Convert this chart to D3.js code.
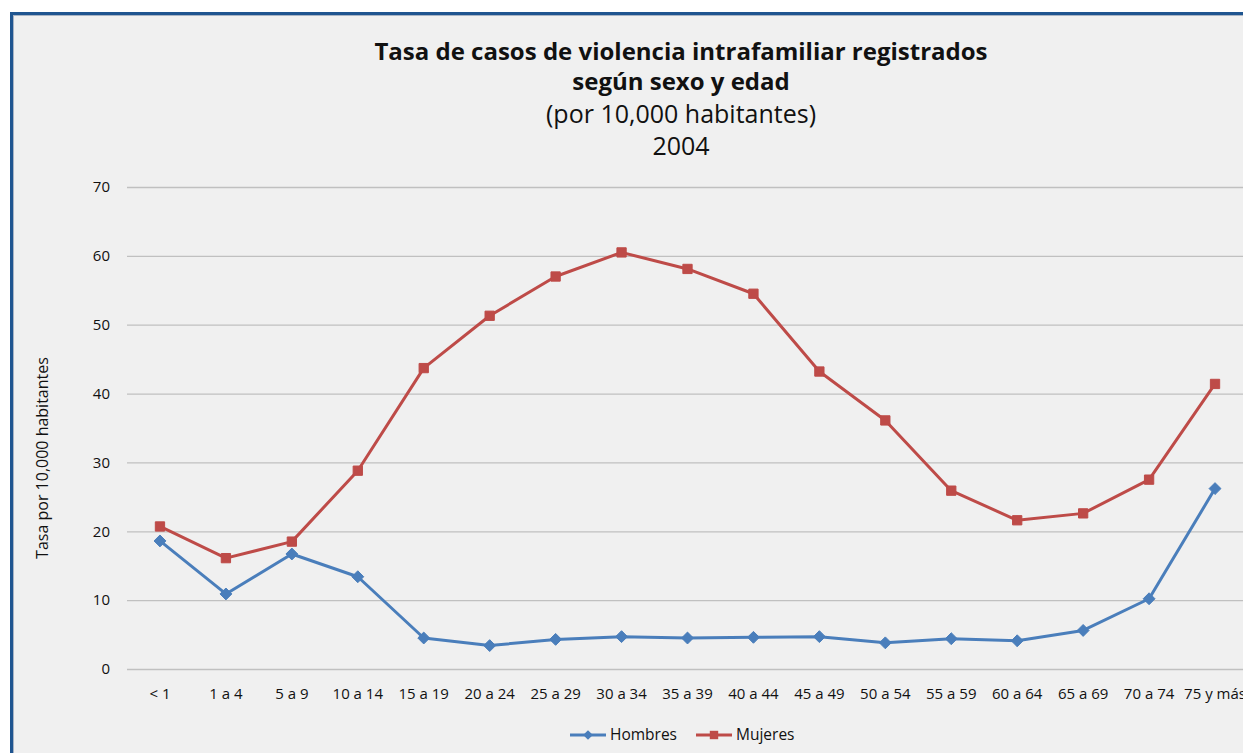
<!DOCTYPE html>
<html lang="es">
<head>
<meta charset="UTF-8">
<title>Tasa de casos de violencia intrafamiliar</title>
<script src="https://d3js.org/d3.v7.min.js"></script>
<style>
    body { margin: 0; background: #fff; }
    svg text { font-family: "Open Sans", sans-serif; fill: #111; }
    .grid line { stroke: #c0c0c0; stroke-width: 1.3; }
    .axis text { font-size: 15px; }
</style>
</head>
<body>
<svg id="chart" width="1243" height="753"></svg>
<script>
    const categories = ["< 1", "1 a 4", "5 a 9", "10 a 14", "15 a 19", "20 a 24", "25 a 29", "30 a 34",
        "35 a 39", "40 a 44", "45 a 49", "50 a 54", "55 a 59", "60 a 64", "65 a 69", "70 a 74", "75 y más"];
    const hombres = [18.6, 10.9, 16.7, 13.4, 4.5, 3.4, 4.3, 4.7, 4.5, 4.6, 4.7, 3.8, 4.4, 4.1, 5.6, 10.2, 26.2];
    const mujeres = [20.7, 16.1, 18.5, 28.8, 43.7, 51.3, 57.0, 60.5, 58.1, 54.5, 43.2, 36.1, 25.9, 21.6, 22.6, 27.5, 41.4];
    const yTicks = [0, 10, 20, 30, 40, 50, 60, 70];
    const series = [
        { name: "Hombres", values: hombres, color: "#4a7ebb", marker: "diamond" },
        { name: "Mujeres", values: mujeres, color: "#be4b48", marker: "square" }
    ];

    const svg = d3.select("#chart");

    // frame
    svg.append("rect").attr("x", 11.5).attr("y", 13.5).attr("width", 1260).attr("height", 760)
        .attr("fill", "#f0f0f0").attr("stroke", "#1f5590").attr("stroke-width", 3);
    svg.append("rect").attr("x", 13.5).attr("y", 15.5).attr("width", 1260).attr("height", 760)
        .attr("fill", "none").attr("stroke", "#a8b4c4").attr("stroke-width", 1);

    // titles
    const titles = [
        { t: "Tasa de casos de violencia intrafamiliar registrados", y: 60, bold: true },
        { t: "según sexo y edad", y: 90, bold: true },
        { t: "(por 10,000 habitantes)", y: 123, bold: false },
        { t: "2004", y: 155, bold: false }
    ];
    svg.selectAll(".title").data(titles).enter().append("text").attr("class", "title")
        .attr("x", 681).attr("y", d => d.y).attr("text-anchor", "middle")
        .style("font-size", d => d.bold ? "24px" : "25px")
        .attr("font-weight", d => d.bold ? "bold" : "normal").text(d => d.t);

    const plotL = 127, plotR = 1248, plotT = 187, plotB = 669;
    const x = d3.scaleBand().domain(categories).range([plotL, plotR]);
    const y = d3.scaleLinear().domain([0, 70]).range([plotB, plotT]);
    const cx = d => x(d) + x.bandwidth() / 2;

    // gridlines
    const grid = svg.append("g").attr("class", "grid")
        .attr("transform", `translate(${plotL},0)`)
        .call(d3.axisLeft(y).tickValues(yTicks).tickSize(-(plotR - plotL)).tickFormat(""));
    grid.select(".domain").remove();

    // y axis labels
    svg.append("g").attr("class", "axis").selectAll("text").data(yTicks).enter().append("text")
        .attr("x", 110).attr("y", d => y(d)).attr("dy", "0.35em").attr("text-anchor", "end").text(d => d);

    // x axis labels
    svg.append("g").attr("class", "axis").selectAll("text").data(categories).enter().append("text")
        .attr("x", d => cx(d)).attr("y", 699).attr("text-anchor", "middle").text(d => d);

    // y title
    svg.append("text").attr("transform", "translate(48,458) rotate(-90)")
        .attr("text-anchor", "middle").style("font-size", "16px").text("Tasa por 10,000 habitantes");

    const line = d3.line().x((d, i) => cx(categories[i])).y(d => y(d));
    const diamond = d3.symbol().type(d3.symbolDiamond2).size(90);
    const square = d3.symbol().type(d3.symbolSquare2).size(110);

    series.forEach(s => {
        const g = svg.append("g");
        g.append("path").datum(s.values).attr("d", line).attr("fill", "none")
            .attr("stroke", s.color).attr("stroke-width", 3).attr("stroke-linejoin", "round");
        g.selectAll("path.m").data(s.values).enter().append("path").attr("class", "m")
            .attr("transform", (d, i) => `translate(${cx(categories[i])},${y(d)})`)
            .attr("d", s.marker === "diamond" ? diamond : square)
            .attr("fill", s.color).attr("stroke", s.color).attr("stroke-width", 1);
    });

    // legend
    const legend = svg.append("g").attr("class", "axis");
    const legendItems = [{ s: series[0], x: 570 }, { s: series[1], x: 696 }];
    legendItems.forEach(it => {
        legend.append("line").attr("x1", it.x).attr("x2", it.x + 36).attr("y1", 735).attr("y2", 735)
            .attr("stroke", it.s.color).attr("stroke-width", 3);
        legend.append("path").attr("transform", `translate(${it.x + 18},735)`)
            .attr("d", it.s.marker === "diamond" ? d3.symbol().type(d3.symbolDiamond2).size(60) : d3.symbol().type(d3.symbolSquare2).size(90))
            .attr("fill", it.s.color);
        legend.append("text").attr("x", it.x + 40).attr("y", 740).style("font-size", "15.5px").text(it.s.name);
    });
</script>
</body>
</html>
